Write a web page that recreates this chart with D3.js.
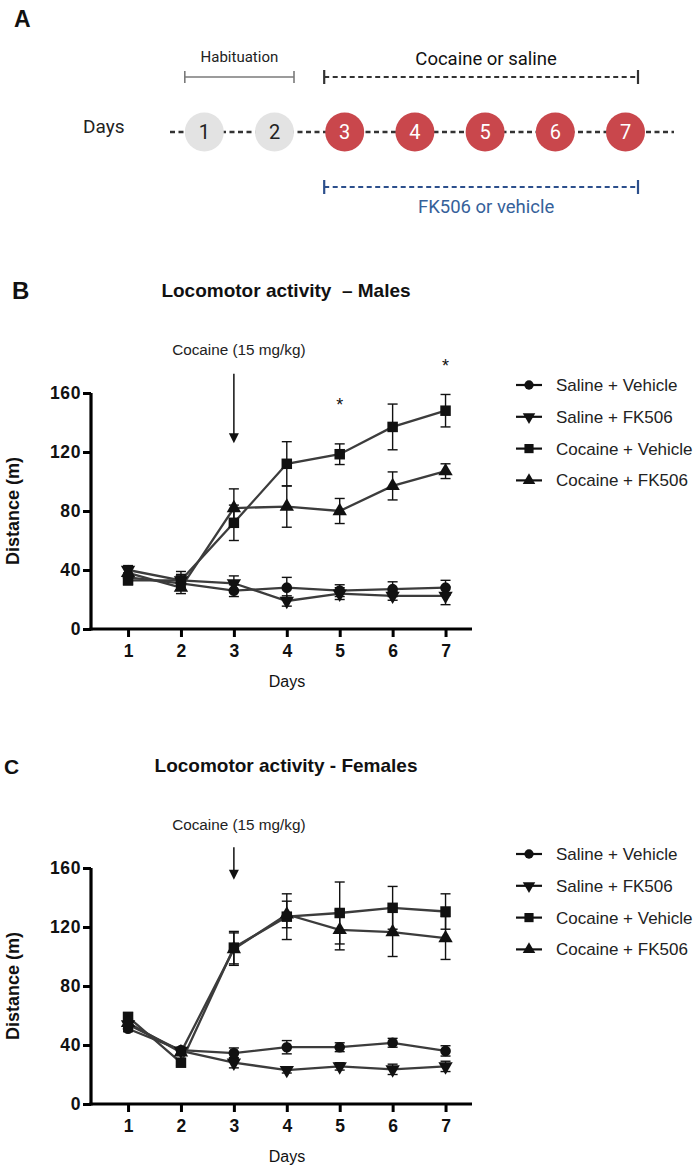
<!DOCTYPE html>
<html>
<head>
<meta charset="utf-8">
<script src="https://cdn.jsdelivr.net/npm/d3@7"></script>
<style>
  html, body { margin: 0; padding: 0; background: #ffffff; }
  svg { display: block; }
</style>
</head>
<body>
<svg id="chart" width="700" height="1172"></svg>
<script>
// ---------------- DATA ----------------
const days = [1, 2, 3, 4, 5, 6, 7];
const yTicks = [0, 40, 80, 120, 160];
const seriesNames = ["Saline + Vehicle", "Saline + FK506", "Cocaine + Vehicle", "Cocaine + FK506"];
const seriesSymbols = ["circle", "triangleDown", "square", "triangle"];

// Panel A timeline
const timelineDays = [1, 2, 3, 4, 5, 6, 7];
const habituationDays = [1, 2];
const treatmentDays = [3, 4, 5, 6, 7];

// Males (mean, SEM)
const maleSalVeh = [35, 31, 26, 28, 26, 27, 28];
const maleSalVehSem = [3, 3, 4, 7, 4, 5, 5];
const maleSalFK = [40, 33, 31, 19, 24, 22.5, 22.5];
const maleSalFKSem = [3, 4, 5, 3.5, 4, 3, 6];
const maleCocVeh = [33, 33, 72, 112, 118.5, 137, 148];
const maleCocVehSem = [3, 6, 12, 15, 7, 15.5, 11];
const maleCocFK = [38, 28, 82, 83, 80, 97, 107];
const maleCocFKSem = [3, 4, 13, 14, 8.5, 9.5, 5];
const maleSigDays = [5, 7];
const maleSigY = [155, 182];

// Females (mean, SEM)
const femSalVeh = [51, 36.5, 34.5, 38.5, 38.5, 41.5, 36];
const femSalVehSem = [2, 2, 3.5, 4.5, 3, 3, 3.5];
const femSalFK = [54, 36, 28, 23, 25.5, 23.5, 25.5];
const femSalFKSem = [2, 2, 3.5, 2, 2.5, 3.5, 3.5];
const femCocVeh = [59, 28, 106, 127, 129.5, 133, 130.5];
const femCocVehSem = [3, 2, 11, 15.5, 21, 14.5, 12];
const femCocFK = [55, 35, 105, 128.5, 118, 116.5, 112.5];
const femCocFKSem = [3, 2, 11, 9, 13.5, 16.5, 14.5];

// Cocaine annotation (day, arrow start/end and label in data units)
const cocaineDay = 3;
const cocaineLabel = "Cocaine (15 mg/kg)";
const maleArrow = [173, 126];
const femArrow = [174, 152];
const cocaineLabelY = 186;

// ---------------- DRAWING ----------------
const svg = d3.select("#chart");
svg.append("rect").attr("width", 700).attr("height", 1172).attr("fill", "#ffffff");

const SANS = "'Liberation Sans', Arial, sans-serif";
const ROBOTO = "Roboto, 'Liberation Sans', sans-serif";

// ---- Panel A ----
(function panelA() {
  const g = svg.append("g");
  g.append("text").attr("x", 14).attr("y", 27).text("A")
    .attr("font-family", SANS).attr("font-weight", "bold").attr("font-size", 23).attr("fill", "#111");

  const xt = d3.scaleLinear().domain([1, 7]).range([204.3, 625.5]);
  const cy = 132;
  const r = 19.5;

  g.append("line").attr("x1", 170).attr("x2", 674).attr("y1", cy).attr("y2", cy)
    .attr("stroke", "#333").attr("stroke-width", 2.3).attr("stroke-dasharray", "5,3.5");

  g.append("text").attr("x", 83).attr("y", 133).text("Days")
    .attr("font-family", ROBOTO).attr("font-size", 19).attr("fill", "#222");

  const hx1 = xt(habituationDays[0]) - r, hx2 = xt(habituationDays[habituationDays.length - 1]) + r;
  const hy = 77;
  g.append("line").attr("x1", hx1).attr("x2", hx2).attr("y1", hy).attr("y2", hy)
    .attr("stroke", "#7a7a7a").attr("stroke-width", 1.6);
  [hx1, hx2].forEach(x => g.append("line").attr("x1", x).attr("x2", x).attr("y1", hy - 6).attr("y2", hy + 6)
    .attr("stroke", "#7a7a7a").attr("stroke-width", 1.6));
  g.append("text").attr("x", (hx1 + hx2) / 2).attr("y", 62).attr("text-anchor", "middle")
    .text("Habituation").attr("font-family", ROBOTO).attr("font-size", 15).attr("fill", "#222");

  const tx1 = xt(treatmentDays[0]) - r - 1, tx2 = xt(treatmentDays[treatmentDays.length - 1]) + r - 7;
  function bracket(y, color, label, ly, tcolor) {
    g.append("line").attr("x1", tx1).attr("x2", tx2).attr("y1", y).attr("y2", y)
      .attr("stroke", color).attr("stroke-width", 2.2).attr("stroke-dasharray", "5,3.5");
    [tx1, tx2].forEach(x => g.append("line").attr("x1", x).attr("x2", x).attr("y1", y - 7).attr("y2", y + 7)
      .attr("stroke", color).attr("stroke-width", 2.2));
    g.append("text").attr("x", (tx1 + tx2) / 2 + 5).attr("y", ly).attr("text-anchor", "middle")
      .text(label).attr("font-family", ROBOTO).attr("font-size", 18.5).attr("fill", tcolor);
  }
  bracket(77, "#333", "Cocaine or saline", 65, "#111");
  bracket(187, "#2c4f8c", "FK506 or vehicle", 213, "#35619a");

  const circ = g.selectAll("g.day").data(timelineDays).join("g").attr("class", "day")
    .attr("transform", d => `translate(${xt(d)},${cy})`);
  circ.append("circle").attr("r", r)
    .attr("fill", d => habituationDays.includes(d) ? "#e3e3e3" : "#c9474c");
  circ.append("text").attr("text-anchor", "middle").attr("dy", "0.36em").text(d => d)
    .attr("font-family", ROBOTO).attr("font-size", 20)
    .attr("fill", d => habituationDays.includes(d) ? "#222" : "#ffffff");
})();

// ---- Line chart panels ----
function symbolPath(kind, size) {
  if (kind === "circle") return d3.symbol(d3.symbolCircle, size * 0.85)();
  if (kind === "square") return d3.symbol(d3.symbolSquare, size * 1.05)();
  return d3.symbol(d3.symbolTriangle, size * 0.85)();
}
function symbolTransform(kind) { return kind === "triangleDown" ? " rotate(180)" : ""; }

function drawPanel(opt) {
  const g = svg.append("g");
  const x = d3.scaleLinear().domain([0.3, 7.5]).range([91, 472]);
  const y = d3.scaleLinear().domain([0, 160]).range([opt.yBot, opt.yTop]);

  g.append("text").attr("x", opt.letterX).attr("y", opt.titleY + 2).text(opt.letter)
    .attr("font-family", SANS).attr("font-weight", "bold").attr("font-size", opt.letterSize).attr("fill", "#111");
  g.append("text").attr("x", 286).attr("y", opt.titleY).attr("text-anchor", "middle")
    .style("white-space", "pre").text(opt.title)
    .attr("font-family", SANS).attr("font-weight", "bold").attr("font-size", 19).attr("fill", "#111");

  const yAxis = d3.axisLeft(y).tickValues(yTicks).tickSize(8).tickSizeOuter(0).tickPadding(2);
  const xAxis = d3.axisBottom(x).tickValues(days).tickSize(8).tickSizeOuter(0).tickPadding(8).tickFormat(d3.format("d"));
  const ga = g.append("g").attr("transform", `translate(${x(0.3)},0)`).call(yAxis);
  const gb = g.append("g").attr("transform", `translate(0,${opt.yBot})`).call(xAxis);
  [ga, gb].forEach(a => {
    a.select(".domain").attr("stroke", "#000").attr("stroke-width", 3.2);
    a.selectAll(".tick line").attr("stroke", "#000").attr("stroke-width", 3);
    a.selectAll(".tick text").attr("font-family", SANS).attr("font-weight", "bold")
      .attr("font-size", 17.5).attr("fill", "#111");
  });
  ga.selectAll(".tick text").attr("letter-spacing", 0.6);
  ga.select(".domain").attr("d", `M0,${opt.yTop}V${opt.yBot + 1.5}`);
  gb.select(".domain").attr("d", `M${x(0.3) - 1.5},0H${x(7.5)}`);

  g.append("text").attr("transform", `translate(19,${(opt.yTop + opt.yBot) / 2}) rotate(-90)`)
    .attr("text-anchor", "middle").text("Distance (m)")
    .attr("font-family", SANS).attr("font-weight", "bold").attr("font-size", 18).attr("fill", "#111");
  g.append("text").attr("x", 287).attr("y", opt.yBot + 58).attr("text-anchor", "middle").text("Days")
    .attr("font-family", SANS).attr("font-size", 16).attr("fill", "#111");

  g.append("text").attr("x", x(cocaineDay) + 5).attr("y", y(cocaineLabelY)).attr("text-anchor", "middle")
    .text(cocaineLabel).attr("font-family", SANS).attr("font-size", 15.3).attr("fill", "#222");
  const ay1 = y(opt.arrow[0]), ay2 = y(opt.arrow[1]);
  const ax = x(cocaineDay);
  g.append("line").attr("x1", ax).attr("x2", ax).attr("y1", ay1).attr("y2", ay2 - 8)
    .attr("stroke", "#111").attr("stroke-width", 1.5);
  g.append("path").attr("d", `M${ax - 5},${ay2 - 10}L${ax + 5},${ay2 - 10}L${ax},${ay2}Z`).attr("fill", "#111");

  const series = opt.series.map((s, i) => ({
    name: seriesNames[i], sym: seriesSymbols[i],
    pts: days.map((d, j) => ({ d, v: s.mean[j], e: s.sem[j] }))
  }));
  const line = d3.line().x(p => x(p.d)).y(p => y(p.v));
  g.append("g").selectAll("path").data(series).join("path")
    .attr("d", s => line(s.pts)).attr("fill", "none").attr("stroke", "#3c3c3c").attr("stroke-width", 2.3);

  const eg = g.append("g");
  series.forEach(s => {
    s.pts.forEach(p => {
      const px = x(p.d), top = y(p.v + p.e), bot = y(p.v - p.e);
      eg.append("line").attr("x1", px).attr("x2", px).attr("y1", top).attr("y2", bot)
        .attr("stroke", "#111").attr("stroke-width", 1.4);
      [top, bot].forEach(yy => eg.append("line").attr("x1", px - 5).attr("x2", px + 5)
        .attr("y1", yy).attr("y2", yy).attr("stroke", "#111").attr("stroke-width", 1.4));
    });
  });
  const mg = g.append("g");
  series.forEach(s => {
    mg.selectAll(null).data(s.pts).join("path")
      .attr("d", symbolPath(s.sym, 105))
      .attr("transform", p => `translate(${x(p.d)},${y(p.v)})` + symbolTransform(s.sym))
      .attr("fill", "#111");
  });

  if (opt.sigDays) {
    g.selectAll(null).data(opt.sigDays).join("text")
      .attr("x", d => x(d)).attr("y", (d, i) => y(opt.sigY[i]) + 11).attr("text-anchor", "middle")
      .text("*").attr("font-family", SANS).attr("font-size", 18).attr("fill", "#111");
  }

  const lg = g.append("g").attr("transform", `translate(0,${opt.legendY})`);
  series.forEach((s, i) => {
    const row = lg.append("g").attr("transform", `translate(0,${i * 31.8})`);
    row.append("line").attr("x1", 516).attr("x2", 542).attr("y1", 0).attr("y2", 0)
      .attr("stroke", "#111").attr("stroke-width", 2.2);
    row.append("path").attr("d", symbolPath(s.sym, 80))
      .attr("transform", "translate(529,0)" + symbolTransform(s.sym)).attr("fill", "#111");
    row.append("text").attr("x", 556).attr("y", 0).attr("dy", "0.35em").text(s.name)
      .attr("font-family", SANS).attr("font-size", 17).attr("fill", "#222");
  });
}

drawPanel({
  letter: "B", letterX: 12, letterSize: 24, title: "Locomotor activity  \u2013 Males", titleY: 297,
  yTop: 393, yBot: 629, arrow: maleArrow, legendY: 385,
  sigDays: maleSigDays, sigY: maleSigY,
  series: [
    { mean: maleSalVeh, sem: maleSalVehSem },
    { mean: maleSalFK, sem: maleSalFKSem },
    { mean: maleCocVeh, sem: maleCocVehSem },
    { mean: maleCocFK, sem: maleCocFKSem }
  ]
});

drawPanel({
  letter: "C", letterX: 4, letterSize: 21, title: "Locomotor activity - Females", titleY: 772,
  yTop: 868, yBot: 1104, arrow: femArrow, legendY: 854,
  series: [
    { mean: femSalVeh, sem: femSalVehSem },
    { mean: femSalFK, sem: femSalFKSem },
    { mean: femCocVeh, sem: femCocVehSem },
    { mean: femCocFK, sem: femCocFKSem }
  ]
});
</script>
</body>
</html>
